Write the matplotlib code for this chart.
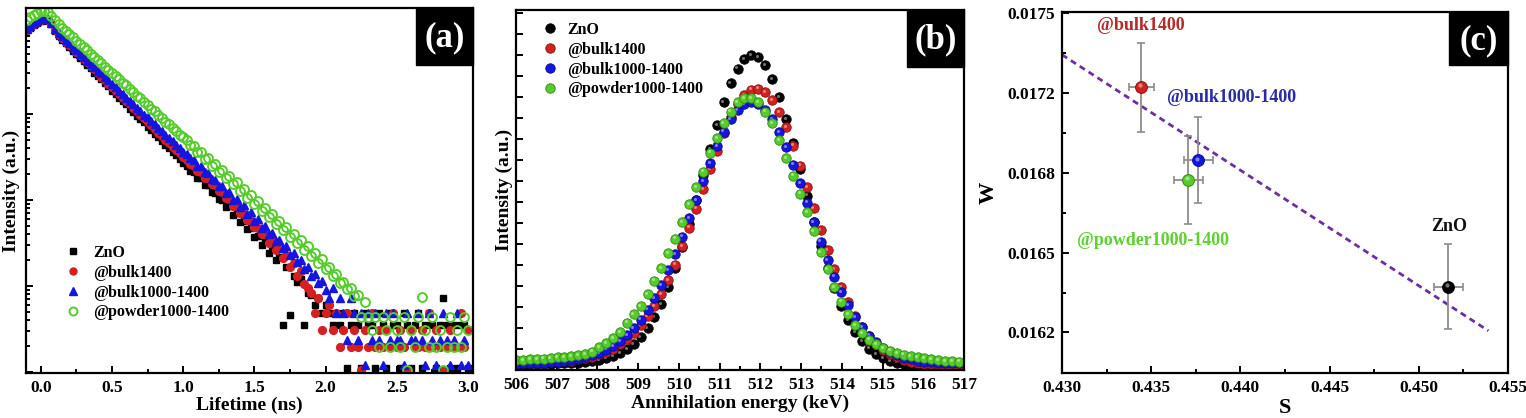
import numpy as np
import matplotlib
matplotlib.use("Agg")
import matplotlib.pyplot as plt
from matplotlib.patches import Rectangle
from matplotlib.ticker import MultipleLocator, LogLocator, NullFormatter, FixedLocator
from matplotlib.transforms import offset_copy

plt.rcParams['font.family'] = 'serif'
plt.rcParams['font.serif'] = ['Liberation Serif', 'DejaVu Serif']
plt.rcParams['font.weight'] = 'bold'
plt.rcParams['axes.labelweight'] = 'bold'
plt.rcParams['axes.linewidth'] = 1.6

# ---------------- data ----------------
series_names = ['ZnO', '@bulk1400', '@bulk1000-1400', '@powder1000-1400']
series_colors = ['#000000', '#d42020', '#1515e0', '#55cc2a']

# (a) positron lifetime spectra: time (ns) and log10(intensity)
lifetime_ns = [-0.1, -0.075, -0.05, -0.025, 0.0, 0.025, 0.05, 0.075, 0.1, 0.125,
               0.15, 0.175, 0.2, 0.225, 0.25, 0.275, 0.3, 0.325, 0.35, 0.375,
               0.4, 0.425, 0.45, 0.475, 0.5, 0.525, 0.55, 0.575, 0.6, 0.625,
               0.65, 0.675, 0.7, 0.725, 0.75, 0.775, 0.8, 0.825, 0.85, 0.875,
               0.9, 0.925, 0.95, 0.975, 1.0, 1.025, 1.05, 1.075, 1.1, 1.125,
               1.15, 1.175, 1.2, 1.225, 1.25, 1.275, 1.3, 1.325, 1.35, 1.375,
               1.4, 1.425, 1.45, 1.475, 1.5, 1.525, 1.55, 1.575, 1.6, 1.625,
               1.65, 1.675, 1.7, 1.725, 1.75, 1.775, 1.8, 1.825, 1.85, 1.875,
               1.9, 1.925, 1.95, 1.975, 2.0, 2.025, 2.05, 2.075, 2.1, 2.125,
               2.15, 2.175, 2.2, 2.225, 2.25, 2.275, 2.3, 2.325, 2.35, 2.375,
               2.4, 2.425, 2.45, 2.475, 2.5, 2.525, 2.55, 2.575, 2.6, 2.625,
               2.65, 2.675, 2.7, 2.725, 2.75, 2.775, 2.8, 2.825, 2.85, 2.875,
               2.9, 2.925, 2.95, 2.975, 3.0]

lt_log10_zno = [3.97, 4.00, 4.03, 4.06, 4.08, 4.09, 4.08, 4.04, 3.96, 3.90,
                3.86, 3.82, 3.78, 3.73, 3.69, 3.65, 3.61, 3.57, 3.53, 3.48,
                3.44, 3.40, 3.36, 3.32, 3.27, 3.23, 3.19, 3.15, 3.11, 3.06,
                3.02, 2.98, 2.94, 2.90, 2.85, 2.81, 2.77, 2.73, 2.69, 2.64,
                2.60, 2.56, 2.52, 2.48, 2.43, 2.40, 2.34, 2.33, 2.26, 2.25,
                2.17, 2.17, 2.09, 2.08, 2.01, 2.00, 1.92, 1.93, 1.83, 1.85,
                1.74, 1.76, 1.66, 1.68, 1.57, 1.58, 1.48, 1.52, 1.38, 1.43,
                1.30, 1.34, 0.55, 1.22, 0.66, 1.12, 1.05, 1.08, 0.55, 0.92,
                0.90, 0.78, 0.86, 0.69, 0.78, 0.69, 0.55, 0.69, 0.55, 0.69,
                0.05, 0.55, 0.69, 0.55, 0.05, 0.69, 0.55, 0.55, 0.05, 0.69,
                0.55, 0.05, 0.69, 0.55, 0.55, 0.05, 0.69, 0.55, 0.05, 0.55,
                0.69, 0.05, 0.55, 0.69, 0.55, 0.05, 0.55, 0.86, 0.55, 0.05,
                0.55, 0.05, 0.55, 0.55, 0.05]

lt_log10_bulk1400 = [3.98, 4.01, 4.04, 4.07, 4.09, 4.10, 4.09, 4.05, 3.98, 3.92,
                     3.88, 3.84, 3.80, 3.76, 3.72, 3.68, 3.64, 3.60, 3.56, 3.52,
                     3.48, 3.43, 3.39, 3.35, 3.31, 3.27, 3.23, 3.19, 3.15, 3.11,
                     3.07, 3.03, 2.99, 2.95, 2.91, 2.87, 2.82, 2.78, 2.74, 2.70,
                     2.66, 2.62, 2.58, 2.54, 2.50, 2.47, 2.42, 2.40, 2.34, 2.32,
                     2.26, 2.25, 2.18, 2.17, 2.10, 2.09, 2.02, 2.01, 1.93, 1.93,
                     1.85, 1.84, 1.77, 1.76, 1.69, 1.68, 1.60, 1.60, 1.50, 1.52,
                     1.42, 1.44, 1.33, 1.36, 1.22, 1.27, 1.12, 1.18, 1.02, 0.98,
                     0.92, 0.69, 0.86, 0.49, 0.69, 0.78, 0.49, 0.69, 0.29, 0.49,
                     0.69, 0.29, 0.49, 0.29, 0.02, 0.49, 0.29, 0.69, 0.29, 0.49,
                     0.29, 0.49, 0.29, 0.69, 0.29, 0.49, 0.29, 0.02, 0.49, 0.29,
                     0.29, 0.49, 0.29, 0.69, 0.29, 0.49, 0.29, 0.02, 0.29, 0.49,
                     0.29, 0.29, 0.69, 0.29, 0.49]

lt_log10_bulk1000 = [3.99, 4.02, 4.05, 4.08, 4.10, 4.11, 4.10, 4.06, 3.99, 3.94,
                     3.90, 3.86, 3.82, 3.78, 3.74, 3.70, 3.66, 3.62, 3.58, 3.54,
                     3.50, 3.47, 3.43, 3.39, 3.35, 3.31, 3.27, 3.23, 3.19, 3.15,
                     3.11, 3.07, 3.03, 2.99, 2.96, 2.92, 2.88, 2.84, 2.80, 2.76,
                     2.72, 2.68, 2.64, 2.60, 2.56, 2.53, 2.49, 2.46, 2.40, 2.39,
                     2.32, 2.31, 2.24, 2.23, 2.16, 2.16, 2.08, 2.09, 2.00, 2.01,
                     1.92, 1.94, 1.84, 1.86, 1.76, 1.78, 1.68, 1.70, 1.60, 1.62,
                     1.52, 1.54, 1.44, 1.46, 1.36, 1.38, 1.28, 1.30, 1.20, 1.22,
                     1.12, 1.14, 1.04, 1.06, 0.95, 0.86, 0.98, 0.69, 0.86, 0.69,
                     0.37, 0.86, 0.69, 0.37, 0.69, 0.08, 0.69, 0.37, 0.69, 0.37,
                     0.08, 0.69, 0.37, 0.69, 0.37, 0.37, 0.08, 0.69, 0.37, 0.37,
                     0.69, 0.37, 0.08, 0.69, 0.37, 0.08, 0.37, 0.69, 0.37, 0.08,
                     0.37, 0.69, 0.08, 0.37, 0.08]

lt_log10_powder = [4.09, 4.12, 4.15, 4.17, 4.19, 4.19, 4.18, 4.14, 4.09, 4.04,
                   4.00, 3.96, 3.93, 3.89, 3.85, 3.81, 3.78, 3.74, 3.70, 3.66,
                   3.63, 3.59, 3.55, 3.51, 3.48, 3.44, 3.40, 3.36, 3.33, 3.29,
                   3.25, 3.21, 3.18, 3.14, 3.10, 3.06, 3.03, 2.99, 2.95, 2.91,
                   2.88, 2.84, 2.80, 2.76, 2.73, 2.70, 2.64, 2.63, 2.56, 2.56,
                   2.48, 2.49, 2.40, 2.42, 2.33, 2.35, 2.25, 2.28, 2.18, 2.21,
                   2.10, 2.13, 2.02, 2.06, 1.95, 1.99, 1.87, 1.91, 1.80, 1.84,
                   1.72, 1.76, 1.65, 1.69, 1.57, 1.61, 1.50, 1.54, 1.42, 1.46,
                   1.35, 1.38, 1.27, 1.31, 1.20, 1.22, 1.12, 1.14, 1.04, 1.05,
                   0.96, 0.98, 0.88, 0.90, 0.64, 0.82, 0.64, 0.49, 0.64, 0.29,
                   0.64, 0.49, 0.29, 0.64, 0.49, 0.29, 0.64, 0.02, 0.49, 0.29,
                   0.64, 0.87, 0.49, 0.29, 0.64, 0.29, 0.49, 0.02, 0.29, 0.64,
                   0.29, 0.49, 0.29, 0.64, 0.49]

# (b) Doppler broadening spectra: energy (keV) and intensity (a.u.)
energy_keV = [506.0, 506.17, 506.34, 506.51, 506.68, 506.85, 507.02, 507.19, 507.36, 507.53,
              507.7, 507.87, 508.04, 508.21, 508.38, 508.55, 508.72, 508.89, 509.06, 509.23,
              509.4, 509.57, 509.74, 509.91, 510.08, 510.25, 510.42, 510.59, 510.76, 510.93,
              511.1, 511.27, 511.44, 511.61, 511.78, 511.95, 512.12, 512.29, 512.46, 512.63,
              512.8, 512.97, 513.14, 513.31, 513.48, 513.65, 513.82, 513.99, 514.16, 514.33,
              514.5, 514.67, 514.84, 515.01, 515.18, 515.35, 515.52, 515.69, 515.86, 516.03,
              516.2, 516.37, 516.54, 516.71, 516.88]

db_zno = [0.25, 0.26, 0.27, 0.28, 0.29, 0.30, 0.31, 0.32, 0.33, 0.35,
          0.38, 0.42, 0.48, 0.56, 0.66, 0.80, 0.98, 1.22, 1.55, 1.98,
          2.50, 3.15, 3.95, 4.85, 5.85, 6.95, 8.10, 9.30, 10.50, 11.65,
          12.75, 13.65, 14.35, 14.80, 15.00, 14.90, 14.50, 13.85, 13.00, 11.95,
          10.80, 9.55, 8.30, 7.05, 5.90, 4.85, 3.90, 3.07, 2.38, 1.82,
          1.37, 1.02, 0.76, 0.57, 0.44, 0.35, 0.29, 0.25, 0.22, 0.20,
          0.19, 0.18, 0.17, 0.17, 0.16]

db_bulk1400 = [0.30, 0.31, 0.32, 0.33, 0.35, 0.37, 0.39, 0.42, 0.45, 0.50,
               0.56, 0.64, 0.74, 0.87, 1.02, 1.22, 1.46, 1.76, 2.12, 2.55,
               3.05, 3.62, 4.28, 5.02, 5.90, 6.78, 7.68, 8.60, 9.55, 10.45,
               11.30, 12.05, 12.65, 13.10, 13.35, 13.40, 13.22, 12.84, 12.28, 11.55,
               10.68, 9.73, 8.72, 7.69, 6.67, 5.70, 4.79, 3.96, 3.22, 2.58,
               2.03, 1.60, 1.25, 0.97, 0.76, 0.60, 0.48, 0.40, 0.34, 0.30,
               0.27, 0.25, 0.24, 0.23, 0.22]

db_bulk1000 = [0.30, 0.31, 0.32, 0.33, 0.35, 0.37, 0.40, 0.43, 0.47, 0.52,
               0.60, 0.70, 0.82, 0.97, 1.15, 1.38, 1.66, 2.00, 2.40, 2.88,
               3.42, 4.05, 4.75, 5.52, 6.35, 7.22, 8.10, 8.98, 9.85, 10.65,
               11.35, 11.93, 12.38, 12.66, 12.75, 12.66, 12.38, 11.93, 11.33, 10.61,
               9.78, 8.89, 7.97, 7.03, 6.11, 5.24, 4.45, 3.72, 3.08, 2.52,
               2.04, 1.64, 1.31, 1.05, 0.85, 0.70, 0.58, 0.50, 0.44, 0.40,
               0.37, 0.35, 0.34, 0.33, 0.32]

db_powder = [0.48, 0.48, 0.50, 0.52, 0.54, 0.57, 0.60, 0.63, 0.67, 0.71,
             0.77, 0.88, 1.10, 1.27, 1.50, 1.80, 2.25, 2.65, 3.05, 3.60,
             4.25, 4.85, 5.55, 6.25, 7.05, 7.90, 8.70, 9.45, 10.35, 11.05,
             11.75, 12.30, 12.75, 12.95, 12.95, 12.75, 12.30, 11.75, 10.95, 10.10,
             9.25, 8.40, 7.50, 6.60, 5.60, 4.80, 3.95, 3.25, 2.65, 2.15,
             1.75, 1.45, 1.22, 1.05, 0.92, 0.82, 0.73, 0.67, 0.60, 0.55,
             0.50, 0.46, 0.43, 0.41, 0.40]

# (c) S-W parameters (order follows series_names)
s_param = [0.45166, 0.43444, 0.43765, 0.43709]
w_param = [0.016387, 0.017199, 0.016901, 0.016822]
s_err = [0.00082, 0.00069, 0.00082, 0.00082]
w_err = [0.000174, 0.000181, 0.000175, 0.000180]
fit_s = [0.4300, 0.4539]
fit_w = [0.017331, 0.016207]
w_ticks = [0.0162, 0.016525, 0.01685, 0.017175, 0.0175]
w_ticklabels = ['0.0162', '0.0165', '0.0168', '0.0172', '0.0175']
s_ticks = [0.430, 0.435, 0.440, 0.445, 0.450, 0.455]
s_ticklabels = ['0.430', '0.435', '0.440', '0.445', '0.450', '0.455']
label_pos_s = [0.45169, 0.43443, 0.43953, 0.43510]
label_pos_w = [0.016632, 0.017448, 0.017155, 0.016575]
label_colors = ['#111111', '#b52a2a', '#2a2aa8', '#5fcf33']

lt_ticks = [0.0, 0.5, 1.0, 1.5, 2.0, 2.5, 3.0]
lt_ticklabels = ['0.0', '0.5', '1.0', '1.5', '2.0', '2.5', '3.0']
en_ticks = [506, 507, 508, 509, 510, 511, 512, 513, 514, 515, 516, 517]

# ---------------- figure ----------------
fig = plt.figure(figsize=(15.26, 4.18), dpi=100)
W_PX, H_PX = 1526.0, 418.0


def add_axes_px(left, top, right, bottom):
    return fig.add_axes([left / W_PX, 1 - bottom / H_PX,
                         (right - left) / W_PX, (bottom - top) / H_PX])


def panel_tag(ax, text, x0, y0):
    ax.add_patch(Rectangle((x0, y0), 1 - x0, 1 - y0, transform=ax.transAxes,
                           facecolor='black', edgecolor='black', zorder=20, clip_on=False))
    ax.text((x0 + 1) / 2, (y0 + 1) / 2 - 0.005, text, transform=ax.transAxes, color='white',
            fontsize=25, fontweight='bold', ha='center', va='center', zorder=21)


def style_ticks(ax):
    ax.tick_params(axis='both', which='both', direction='in', top=False, right=False,
                   labelsize=12.5, width=1.4)
    ax.tick_params(axis='both', which='major', length=5, pad=5)
    ax.tick_params(axis='both', which='minor', length=3)


# ---- (a) ----
axa = add_axes_px(26, 8, 473, 373)
lt_series = [lt_log10_zno, lt_log10_bulk1400, lt_log10_bulk1000, lt_log10_powder]
lt_markers = [dict(marker='s', ms=5.0, mfc=series_colors[0], mec=series_colors[0]),
              dict(marker='o', ms=5.6, mfc=series_colors[1], mec=series_colors[1]),
              dict(marker='^', ms=6.0, mfc=series_colors[2], mec=series_colors[2]),
              dict(marker='o', ms=6.4, mfc='none', mec=series_colors[3], mew=1.4)]
for name, vals, mk in zip(series_names, lt_series, lt_markers):
    axa.plot(lifetime_ns, np.power(10.0, vals), linestyle='none', label=name, **mk)
axa.set_yscale('log')
axa.set_xlim(-0.104, 3.035)
axa.set_ylim(10 ** -0.01, 10 ** 4.23)
axa.set_xticks(lt_ticks)
axa.set_xticklabels(lt_ticklabels)
axa.xaxis.set_minor_locator(MultipleLocator(0.25))
axa.yaxis.set_major_locator(LogLocator(base=10, numticks=10))
axa.yaxis.set_minor_locator(LogLocator(base=10, subs=np.arange(2, 10), numticks=20))
axa.yaxis.set_major_formatter(NullFormatter())
axa.yaxis.set_minor_formatter(NullFormatter())
style_ticks(axa)
axa.set_xlabel('Lifetime (ns)', fontsize=14)
axa.xaxis.set_label_coords(0.5, -0.066)
axa.set_ylabel('Intensity (a.u.)', fontsize=14)
axa.yaxis.set_label_coords(-0.014, 0.5)
axa.legend(loc='upper left', bbox_to_anchor=(0.087, 0.352), frameon=False, fontsize=11.5,
           handlelength=1.0, handletextpad=0.75, labelspacing=0.25, borderpad=0,
           borderaxespad=0, markerscale=0.9)
panel_tag(axa, '(a)', 0.8725, 0.844)

# ---- (b) ----
axb = add_axes_px(516, 10, 964, 370)
db_series = [db_zno, db_bulk1400, db_bulk1000, db_powder]
hl = offset_copy(axb.transData, fig=fig, x=-0.9, y=0.9, units='points')
edge_cols = ['#000000', '#8a1010', '#0a0a90', '#2e8a10']
for name, vals, col, ec in zip(series_names, db_series, series_colors, edge_cols):
    axb.plot(energy_keV, vals, linestyle='none', marker='o', ms=6.8, mfc=col, mec=ec,
             mew=0.6, label=name)
    axb.plot(energy_keV, vals, linestyle='none', marker='o', ms=2.2, mfc='white', mec='none',
             alpha=0.45, transform=hl)
axb.set_xlim(506, 517)
axb.set_ylim(0, 17.14)
axb.set_xticks(en_ticks)
axb.xaxis.set_minor_locator(MultipleLocator(0.5))
axb.yaxis.set_major_locator(MultipleLocator(1))
axb.yaxis.set_major_formatter(NullFormatter())
style_ticks(axb)
axb.set_xlabel('Annihilation energy (keV)', fontsize=14)
axb.xaxis.set_label_coords(0.5, -0.068)
axb.set_ylabel('Intensity (a.u.)', fontsize=14)
axb.yaxis.set_label_coords(-0.006, 0.5)
axb.legend(loc='upper left', bbox_to_anchor=(0.058, 0.968), frameon=False, fontsize=11.5,
           handlelength=1.0, handletextpad=0.56, labelspacing=0.25, borderpad=0,
           borderaxespad=0)
panel_tag(axb, '(b)', 0.873, 0.842)

# ---- (c) ----
axc = add_axes_px(1062, 12, 1508, 373)
axc.plot(fit_s, fit_w, linestyle=(0, (2.2, 1.6)), color='#6b2fa0', lw=2.0, zorder=2)
hlc = offset_copy(axc.transData, fig=fig, x=-1.2, y=1.2, units='points')
for i, name in enumerate(series_names):
    axc.errorbar(s_param[i], w_param[i], xerr=s_err[i], yerr=w_err[i], fmt='none',
                 ecolor='#8c8c8c', elinewidth=1.3, capsize=3, capthick=1.2, zorder=3)
    axc.plot(s_param[i], w_param[i], linestyle='none', marker='o', ms=8.5,
             mfc=series_colors[i], mec=edge_cols[i], mew=0.7, zorder=4)
    axc.plot(s_param[i], w_param[i], linestyle='none', marker='o', ms=3, mfc='white',
             mec='none', alpha=0.45, transform=hlc, zorder=5)
    axc.text(label_pos_s[i], label_pos_w[i], name, color=label_colors[i], fontsize=13,
             fontweight='bold', ha='center', va='center', zorder=6)
axc.set_xlim(0.430, 0.455)
axc.set_ylim(0.016035, 0.017505)
axc.set_xticks(s_ticks)
axc.set_xticklabels(s_ticklabels)
axc.set_yticks(w_ticks)
axc.set_yticklabels(w_ticklabels)
axc.xaxis.set_minor_locator(MultipleLocator(0.0025))
axc.yaxis.set_minor_locator(FixedLocator([0.0162 + 0.0001625 * (2 * k + 1) for k in range(4)]))
style_ticks(axc)
axc.set_xlabel('S', fontsize=16)
axc.xaxis.set_label_coords(0.5, -0.068)
axc.set_ylabel('W', fontsize=16)
axc.yaxis.set_label_coords(-0.143, 0.5)
panel_tag(axc, '(c)', 0.868, 0.853)

fig.savefig('out.png', dpi=100)
